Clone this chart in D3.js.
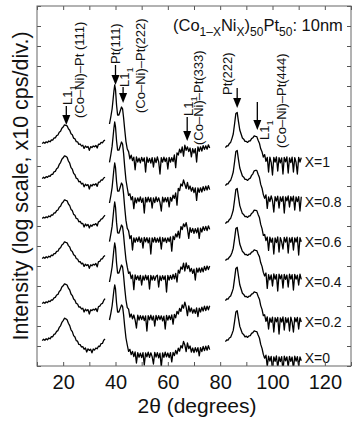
<!DOCTYPE html>
<html>
<head>
<meta charset="utf-8">
<script src="https://cdn.jsdelivr.net/npm/d3@7"></script>
<style>
  html, body { margin: 0; padding: 0; background: #fff; }
  svg { display: block; font-family: Arial, "Liberation Sans", Helvetica, sans-serif; }
</style>
</head>
<body>
<svg id="chart" width="352" height="422"></svg>
<script>
// 2theta sampling grid of the three measured windows (degrees)
const seg1X = d3.range(12, 36.25, 0.5);
const seg2X = [37.7, 38.2, 38.7, 39.1, 39.4, 39.7, 40.0, 40.4, 40.8, 41.3, 41.8, 42.3, 42.7, 43.1, 43.5, 44.0, 44.5]
  .concat(d3.range(45, 76.25, 0.5));
const seg3X = d3.range(82, 111.25, 0.5);

// log intensity (decades = divisions), before the stacking offset
const x1Seg1 = [1.12, 1.19, 1.14, 1.21, 1.17, 1.25, 1.21, 1.30, 1.29, 1.40,
  1.41, 1.52, 1.55, 1.69, 1.74, 1.89, 1.95, 2.06, 2.03, 2.01,
  1.86, 1.79, 1.61, 1.56, 1.39, 1.36, 1.22, 1.21, 1.08, 1.10,
  1.00, 1.04, 0.88, 1.00, 0.93, 0.98, 0.78, 0.97, 0.92, 1.00,
  0.96, 1.03, 0.90, 1.09, 1.08, 1.18, 1.16, 1.26, 1.29];
const x1Seg2 = [2.10, 2.45, 2.85, 3.35, 3.75, 4.05, 3.82, 3.05, 2.55, 2.55, 2.75, 2.95, 2.86, 2.40, 1.85, 1.22, 0.85,
  0.72, 0.36, 0.54, 0.27, 0.44, -0.19, 0.45, 0.20, 0.39, 0.16,
  0.43, 0.23, 0.41, -0.30, 0.44, 0.18, 0.38, 0.15, 0.42, -0.05,
  0.40, 0.17, 0.45, 0.21, -0.40, 0.42, 0.19, 0.44, 0.22, 0.40,
  -0.15, 0.43, 0.19, 0.42, 0.22, 0.56, -0.08, 0.66, 0.55, 0.84,
  0.66, 0.95, 0.49, 1.04, 0.78, 0.96, 0.72, 0.90, 0.46, 0.87,
  0.65, 0.87, 0.20, 0.96, 0.73, 0.96, 0.75, 1.02, 0.83, 1.01,
  0.84, 1.06, 0.90];
const x1Seg3 = [0.92, 1.00, 1.01, 1.12, 1.18, 1.37, 1.60, 2.10, 2.63, 2.68,
  2.22, 1.80, 1.60, 1.40, 1.34, 1.23, 1.23, 1.18, 1.25, 1.26,
  1.37, 1.41, 1.51, 1.48, 1.47, 1.29, 1.14, 0.86, 0.71, 0.45,
  0.57, 0.23, 0.43, -0.30, 0.44, 0.18, -0.45, 0.43, 0.20, 0.45,
  -0.25, 0.42, 0.16, 0.41, -0.40, 0.43, 0.21, 0.45, -0.35, 0.40,
  0.17, 0.44, -0.30, 0.42, 0.19, -0.40, 0.43, 0.20, 0.42];

const x08Seg1 = [1.37, 1.44, 1.39, 1.47, 1.43, 1.51, 1.48, 1.58, 1.58, 1.71,
  1.73, 1.86, 1.91, 2.08, 2.17, 2.34, 2.41, 2.51, 2.48, 2.44,
  2.25, 2.14, 1.92, 1.84, 1.63, 1.56, 1.39, 1.36, 1.21, 1.23,
  1.10, 1.14, 0.96, 1.09, 1.02, 1.07, 0.85, 1.06, 1.00, 1.09,
  1.05, 1.12, 0.98, 1.19, 1.19, 1.30, 1.29, 1.40, 1.44];
const x08Seg2 = [2.18, 2.55, 2.98, 3.50, 3.90, 4.20, 3.96, 3.26, 2.80, 2.79, 2.99, 3.20, 3.10, 2.62, 1.98, 1.30, 0.90,
  0.53, 0.61, 0.31, 0.47, -0.13, 0.41, 0.16, 0.41, 0.22, 0.45,
  0.18, 0.39, -0.35, 0.43, 0.20, 0.44, 0.21, 0.42, -0.10, 0.40,
  0.17, 0.45, 0.22, 0.41, 0.18, -0.25, 0.44, 0.20, 0.42, 0.21,
  0.43, -0.04, 0.43, 0.24, 0.54, 0.38, 0.65, 0.04, 0.88, 0.77,
  1.10, 1.00, 1.30, 1.09, 0.87, 1.18, 0.84, 1.00, 0.74, 0.93,
  0.67, 0.90, 0.28, 0.90, 0.68, 0.91, 0.70, 0.97, 0.77, 0.99,
  0.80, 1.02, 0.82];
const x08Seg3 = [1.02, 1.10, 1.11, 1.22, 1.28, 1.47, 1.70, 2.20, 2.73, 2.78,
  2.32, 1.90, 1.70, 1.50, 1.44, 1.33, 1.33, 1.28, 1.36, 1.39,
  1.53, 1.61, 1.76, 1.78, 1.78, 1.59, 1.42, 1.08, 0.89, 0.57,
  0.38, 0.56, -0.12, 0.46, 0.22, 0.50, 0.27, -0.30, 0.47, 0.25,
  0.49, -0.10, 0.45, 0.23, 0.48, -0.35, 0.46, 0.26, 0.50, -0.05,
  0.47, 0.24, 0.49, -0.20, 0.45, 0.22, 0.47, -0.25, 0.46];

const x06Seg1 = [1.38, 1.44, 1.40, 1.46, 1.42, 1.50, 1.46, 1.55, 1.54, 1.65,
  1.66, 1.77, 1.80, 1.94, 1.99, 2.14, 2.20, 2.31, 2.28, 2.26,
  2.10, 2.02, 1.83, 1.77, 1.58, 1.54, 1.38, 1.36, 1.21, 1.23,
  1.12, 1.13, 0.95, 1.10, 1.01, 1.08, 0.90, 1.05, 0.99, 1.08,
  1.06, 1.12, 1.00, 1.21, 1.24, 1.34, 1.37, 1.47, 1.54];
const x06Seg2 = [2.15, 2.50, 2.92, 3.45, 3.85, 4.15, 3.92, 3.22, 2.75, 2.74, 2.94, 3.15, 3.06, 2.58, 1.95, 1.28, 0.88,
  0.76, 0.37, 0.52, -0.20, 0.41, 0.18, 0.41, 0.22, 0.45, 0.18,
  0.40, -0.10, 0.43, 0.21, 0.42, 0.16, 0.40, -0.40, 0.41, 0.20,
  0.43, 0.18, 0.39, 0.19, 0.44, -0.15, 0.42, 0.22, 0.40, 0.17,
  0.41, 0.22, 0.46, -0.26, 0.49, 0.32, 0.61, 0.45, 0.74, 0.40,
  0.97, 0.82, 1.11, 0.97, 1.17, 0.85, 0.38, 0.92, 0.68, 0.88,
  0.63, 0.87, 0.66, 0.91, 0.38, 0.89, 0.70, 0.97, 0.78, 0.98,
  0.77, 1.01, 0.83];
const x06Seg3 = [1.12, 1.20, 1.21, 1.32, 1.38, 1.57, 1.80, 2.30, 2.83, 2.88,
  2.44, 2.02, 1.82, 1.62, 1.57, 1.47, 1.48, 1.43, 1.50, 1.51,
  1.63, 1.68, 1.79, 1.78, 1.77, 1.58, 1.42, 1.08, 0.87, 0.53,
  0.58, 0.27, 0.45, -0.22, 0.44, 0.18, 0.39, -0.40, 0.41, 0.17,
  0.45, -0.30, 0.42, 0.21, -0.15, 0.43, 0.19, 0.44, -0.35, 0.40,
  0.18, 0.43, -0.20, 0.41, 0.20, 0.44, -0.45, 0.42, 0.21];

const x04Seg1 = [1.37, 1.44, 1.39, 1.46, 1.41, 1.49, 1.45, 1.54, 1.52, 1.62,
  1.62, 1.73, 1.74, 1.87, 1.91, 2.05, 2.10, 2.21, 2.18, 2.16,
  2.02, 1.95, 1.78, 1.73, 1.56, 1.52, 1.37, 1.35, 1.21, 1.22,
  1.11, 1.14, 0.98, 1.09, 1.02, 1.07, 0.88, 1.06, 1.01, 1.09,
  1.05, 1.13, 0.96, 1.22, 1.23, 1.35, 1.36, 1.48, 1.53];
const x04Seg2 = [2.22, 2.58, 2.98, 3.50, 3.90, 4.20, 3.95, 3.18, 2.66, 2.64, 2.84, 3.05, 2.97, 2.52, 1.95, 1.32, 0.94,
  0.63, 0.70, 0.37, 0.55, -0.18, 0.55, 0.32, 0.51, 0.28, 0.53,
  0.05, 0.50, 0.29, 0.54, 0.31, 0.52, -0.15, 0.53, 0.30, 0.51,
  0.28, 0.49, 0.54, -0.05, 0.50, 0.27, 0.52, 0.32, 0.51, -0.30,
  0.53, 0.30, 0.53, 0.33, 0.58, 0.36, 0.63, 0.20, 0.79, 0.64,
  0.95, 0.84, 1.14, 0.75, 1.15, 0.87, 1.02, 0.72, 0.88, 0.63,
  0.84, 0.30, 0.89, 0.69, 0.90, 0.69, 0.91, 0.71, 0.98, 0.78,
  1.00, 0.82, 1.00];
const x04Seg3 = [1.28, 1.34, 1.35, 1.44, 1.51, 1.66, 1.89, 2.36, 2.87, 2.93,
  2.52, 2.10, 1.91, 1.73, 1.67, 1.57, 1.58, 1.53, 1.59, 1.60,
  1.69, 1.72, 1.81, 1.78, 1.77, 1.60, 1.47, 1.16, 0.98, 0.68,
  0.50, 0.65, -0.12, 0.57, 0.31, 0.55, 0.00, 0.60, 0.34, 0.57,
  -0.25, 0.59, 0.36, 0.56, -0.10, 0.58, 0.33, 0.55, -0.05, 0.59,
  0.35, 0.57, -0.20, 0.58, 0.34, 0.54, 0.05, 0.59, 0.33];

const x02Seg1 = [1.12, 1.19, 1.14, 1.21, 1.17, 1.25, 1.22, 1.31, 1.30, 1.41,
  1.43, 1.55, 1.58, 1.73, 1.79, 1.95, 2.01, 2.11, 2.08, 2.05,
  1.89, 1.80, 1.60, 1.52, 1.35, 1.29, 1.13, 1.10, 0.95, 0.96,
  0.85, 0.89, 0.70, 0.84, 0.76, 0.82, 0.60, 0.81, 0.77, 0.84,
  0.80, 0.88, 0.72, 0.97, 0.99, 1.10, 1.13, 1.28, 1.37];
const x02Seg2 = [2.20, 2.55, 2.95, 3.45, 3.85, 4.15, 3.92, 3.15, 2.65, 2.65, 2.85, 3.05, 2.96, 2.50, 1.92, 1.30, 0.92,
  0.84, 0.44, 0.60, 0.36, 0.55, 0.30, -0.10, 0.54, 0.30, 0.52,
  0.32, 0.51, 0.27, 0.50, -0.25, 0.52, 0.31, 0.54, 0.29, 0.50,
  0.00, 0.53, 0.30, 0.52, 0.32, 0.51, 0.26, 0.49, -0.15, 0.53,
  0.29, 0.52, 0.32, 0.56, 0.09, 0.58, 0.41, 0.73, 0.60, 0.88,
  0.73, 1.05, 0.89, 1.19, 0.94, 0.52, 1.00, 0.71, 0.90, 0.64,
  0.83, 0.63, 0.90, 0.47, 0.89, 0.70, 0.94, 0.75, 0.99, 0.77,
  0.99, 0.81, 1.01];
const x02Seg3 = [1.27, 1.35, 1.34, 1.45, 1.50, 1.67, 1.88, 2.37, 2.88, 2.94,
  2.50, 2.06, 1.85, 1.64, 1.58, 1.47, 1.48, 1.43, 1.49, 1.50,
  1.59, 1.62, 1.71, 1.68, 1.67, 1.49, 1.34, 1.02, 0.83, 0.52,
  0.56, 0.23, 0.46, -0.15, 0.40, 0.18, 0.44, -0.30, 0.42, 0.21,
  0.43, -0.40, 0.41, 0.20, 0.45, -0.20, 0.42, 0.17, 0.40, -0.25,
  0.44, 0.19, -0.30, 0.42, 0.21, 0.43, -0.15, 0.41, 0.20];

const x0Seg1 = [1.27, 1.34, 1.29, 1.36, 1.31, 1.40, 1.36, 1.47, 1.46, 1.58,
  1.61, 1.73, 1.77, 1.93, 2.01, 2.18, 2.27, 2.39, 2.36, 2.31,
  2.14, 2.02, 1.81, 1.72, 1.52, 1.45, 1.27, 1.24, 1.08, 1.07,
  0.95, 0.97, 0.84, 0.90, 0.70, 0.86, 0.78, 0.84, 0.66, 0.85,
  0.80, 0.90, 0.86, 0.99, 0.97, 1.12, 1.13, 1.29, 1.35];
const x0Seg2 = [2.30, 2.62, 3.00, 3.45, 3.80, 4.05, 3.85, 3.15, 2.70, 2.70, 2.88, 3.05, 2.98, 2.55, 2.00, 1.40, 1.05,
  0.73, 0.83, 0.57, 0.73, 0.47, 0.70, 0.15, 0.67, 0.44, 0.64,
  0.42, 0.67, 0.05, 0.65, 0.46, 0.69, 0.43, 0.66, 0.47, 0.10,
  0.68, 0.45, 0.67, 0.41, 0.64, -0.05, 0.66, 0.43, 0.69, 0.46,
  0.65, 0.42, 0.67, 0.21, 0.68, 0.52, 0.78, 0.60, 0.89, 0.74,
  1.02, 0.90, 1.23, 1.05, 0.72, 1.16, 0.87, 1.00, 0.70, 0.90,
  0.67, 0.92, 0.71, 0.92, 0.51, 0.92, 0.72, 0.98, 0.77, 0.99,
  0.79, 1.02, 0.82];
const x0Seg3 = [1.22, 1.30, 1.29, 1.40, 1.44, 1.60, 1.78, 2.22, 2.70, 2.77,
  2.37, 1.98, 1.80, 1.62, 1.57, 1.46, 1.49, 1.43, 1.51, 1.52,
  1.63, 1.67, 1.76, 1.73, 1.72, 1.55, 1.40, 1.08, 0.88, 0.58,
  0.39, 0.54, -0.02, 0.49, 0.25, 0.48, -0.20, 0.46, 0.23, 0.50,
  -0.10, 0.45, 0.22, 0.47, -0.25, 0.49, 0.26, 0.46, -0.05, 0.48,
  0.23, 0.45, -0.15, 0.49, 0.24, 0.47, 0.00, 0.45, 0.26];

const seriesLabels = ["X=1", "X=0.8", "X=0.6", "X=0.4", "X=0.2", "X=0"];
const stackOffsets = [10, 8, 6, 4, 2, 0];   // divisions
const seriesData = [
  [x1Seg1, x1Seg2, x1Seg3],
  [x08Seg1, x08Seg2, x08Seg3],
  [x06Seg1, x06Seg2, x06Seg3],
  [x04Seg1, x04Seg2, x04Seg3],
  [x02Seg1, x02Seg2, x02Seg3],
  [x0Seg1, x0Seg2, x0Seg3]
];
const segX = [seg1X, seg2X, seg3X];

const xTickLabels = [20, 40, 60, 80, 100, 120];

// peak markers: position (2theta), arrow tail / tip (divisions)
const arrows = [
  { x: 21.2, from: 13.0, to: 12.05 },
  { x: 40.0, from: 15.05, to: 14.05 },
  { x: 42.9, from: 13.95, to: 13.15 },
  { x: 67.4, from: 12.45, to: 11.25 },
  { x: 86.5, from: 13.9, to: 12.9 },
  { x: 94.2, from: 13.2, to: 11.8 }
];
// vertical labels: centre line (2theta), lower end (divisions)
const peakLabels = [
  { x: 21.6, y: 13.05, parts: [["L1"], ["1", "sub"]] },
  { x: 26.2, y: 12.4, parts: [["(Co–Ni)–Pt (111)"]] },
  { x: 39.9, y: 15.1, parts: [["Pt(111)"]] },
  { x: 43.3, y: 13.95, parts: [["L1"], ["1", "sub"]] },
  { x: 49.6, y: 12.65, parts: [["(Co–Ni)–Pt(222)"]] },
  { x: 67.8, y: 12.5, parts: [["L1"], ["1", "sub"]] },
  { x: 71.6, y: 11.05, parts: [["(Co–Ni)–Pt(333)"]] },
  { x: 82.7, y: 13.55, parts: [["Pt(222)"]] },
  { x: 96.9, y: 11.3, parts: [["L1"], ["1", "sub"]] },
  { x: 103.3, y: 10.9, parts: [["(Co–Ni)–Pt(444)"]] }
];

const frame = { left: 37, right: 351, top: 6, bottom: 366 };
const svg = d3.select("#chart");

const xs = d3.scaleLinear().domain([10, 130]).range([frame.left, frame.right]);
const ys = d3.scaleLinear().domain([0, 18]).range([frame.bottom, frame.top]);

svg.append("defs").append("clipPath").attr("id", "clip")
  .append("rect")
  .attr("x", frame.left).attr("y", frame.top)
  .attr("width", frame.right - frame.left).attr("height", frame.bottom - frame.top);

const plot = svg.append("g").attr("clip-path", "url(#clip)");

const line = d3.line().x(d => xs(d[0])).y(d => ys(d[1]));

seriesData.forEach((segs, i) => {
  segs.forEach((vals, k) => {
    const pts = segX[k].map((t, j) => [t, vals[j] + stackOffsets[i]]);
    plot.append("path")
      .attr("d", line(pts))
      .attr("fill", "none")
      .attr("stroke", "#000")
      .attr("stroke-width", 1.3)
      .attr("stroke-linejoin", "round");
  });
});

// series labels
seriesLabels.forEach((lab, i) => {
  svg.append("text")
    .attr("x", xs(112.3))
    .attr("y", Math.min(ys(stackOffsets[i]) + 1, 363))
    .attr("font-size", 14)
    .attr("fill", "#111")
    .text(lab);
});

// axes (ticks inward, no domain path)
const tickCol = "#555";
const axBottom = svg.append("g").attr("transform", `translate(0,${frame.bottom})`)
  .call(d3.axisBottom(xs).tickValues(d3.range(10, 131, 10)).tickSize(-4)
    .tickFormat(d => xTickLabels.includes(d) ? d : ""));
axBottom.select(".domain").remove();
axBottom.selectAll("line").attr("stroke", tickCol);
axBottom.selectAll("text")
  .attr("y", 23).attr("dy", null)
  .attr("font-size", 20).attr("fill", "#111")
  .style("font-family", "Arial, 'Liberation Sans', sans-serif");

const axTop = svg.append("g").attr("transform", `translate(0,${frame.top})`)
  .call(d3.axisTop(xs).tickValues(d3.range(10, 131, 10)).tickSize(-4).tickFormat(""));
axTop.select(".domain").remove();
axTop.selectAll("line").attr("stroke", tickCol);

const axLeft = svg.append("g").attr("transform", `translate(${frame.left},0)`)
  .call(d3.axisLeft(ys).tickValues(d3.range(0, 19)).tickSize(-4).tickFormat(""));
axLeft.select(".domain").remove();
axLeft.selectAll("line").attr("stroke", tickCol);

const axRight = svg.append("g").attr("transform", `translate(${frame.right},0)`)
  .call(d3.axisRight(ys).tickValues(d3.range(0, 19)).tickSize(-4).tickFormat(""));
axRight.select(".domain").remove();
axRight.selectAll("line").attr("stroke", tickCol);

svg.append("rect")
  .attr("x", frame.left).attr("y", frame.top)
  .attr("width", frame.right - frame.left).attr("height", frame.bottom - frame.top)
  .attr("fill", "none").attr("stroke", "#666").attr("stroke-width", 1);

// arrows
arrows.forEach(a => {
  const ax = xs(a.x), y0 = ys(a.from), y1 = ys(a.to);
  svg.append("line")
    .attr("x1", ax).attr("x2", ax).attr("y1", y0).attr("y2", y1 - 6)
    .attr("stroke", "#000").attr("stroke-width", 1.3);
  svg.append("path")
    .attr("d", `M${ax - 4},${y1 - 10}L${ax + 4},${y1 - 10}L${ax},${y1}Z`)
    .attr("fill", "#000");
});

// rotated labels
function addParts(t, parts, size) {
  parts.forEach(p => {
    const sp = t.append("tspan").text(p[0]);
    if (p[1] === "sub") sp.attr("font-size", size * 0.72).attr("dy", size * 0.3);
  });
}
peakLabels.forEach(l => {
  const t = svg.append("text")
    .attr("transform", `translate(${xs(l.x)},${ys(l.y)}) rotate(-90)`)
    .attr("dy", "0.36em")
    .attr("font-size", 13)
    .attr("fill", "#111");
  addParts(t, l.parts, 13);
});

// title
const title = svg.append("text").attr("x", 173).attr("y", 31).attr("font-size", 16.5).attr("fill", "#111");
[["(Co"], ["1–X", "sub"], ["Ni", "up"], ["X", "sub"], [")", "up"], ["50", "sub"], ["Pt", "up"], ["50", "sub"], [": 10nm", "up"]]
  .forEach(p => {
    const sp = title.append("tspan").text(p[0]);
    if (p[1] === "sub") sp.attr("font-size", 12).attr("dy", 4.5);
    if (p[1] === "up") sp.attr("dy", -4.5);
  });

// axis titles
svg.append("text")
  .attr("x", 197).attr("y", 413)
  .attr("text-anchor", "middle").attr("font-size", 21).attr("fill", "#111")
  .text("2θ (degrees)");
svg.append("text")
  .attr("transform", "translate(28,186) rotate(-90)")
  .attr("text-anchor", "middle").attr("font-size", 21.5).attr("fill", "#111")
  .text("Intensity (log scale, x10 cps/div.)");
</script>
</body>
</html>
